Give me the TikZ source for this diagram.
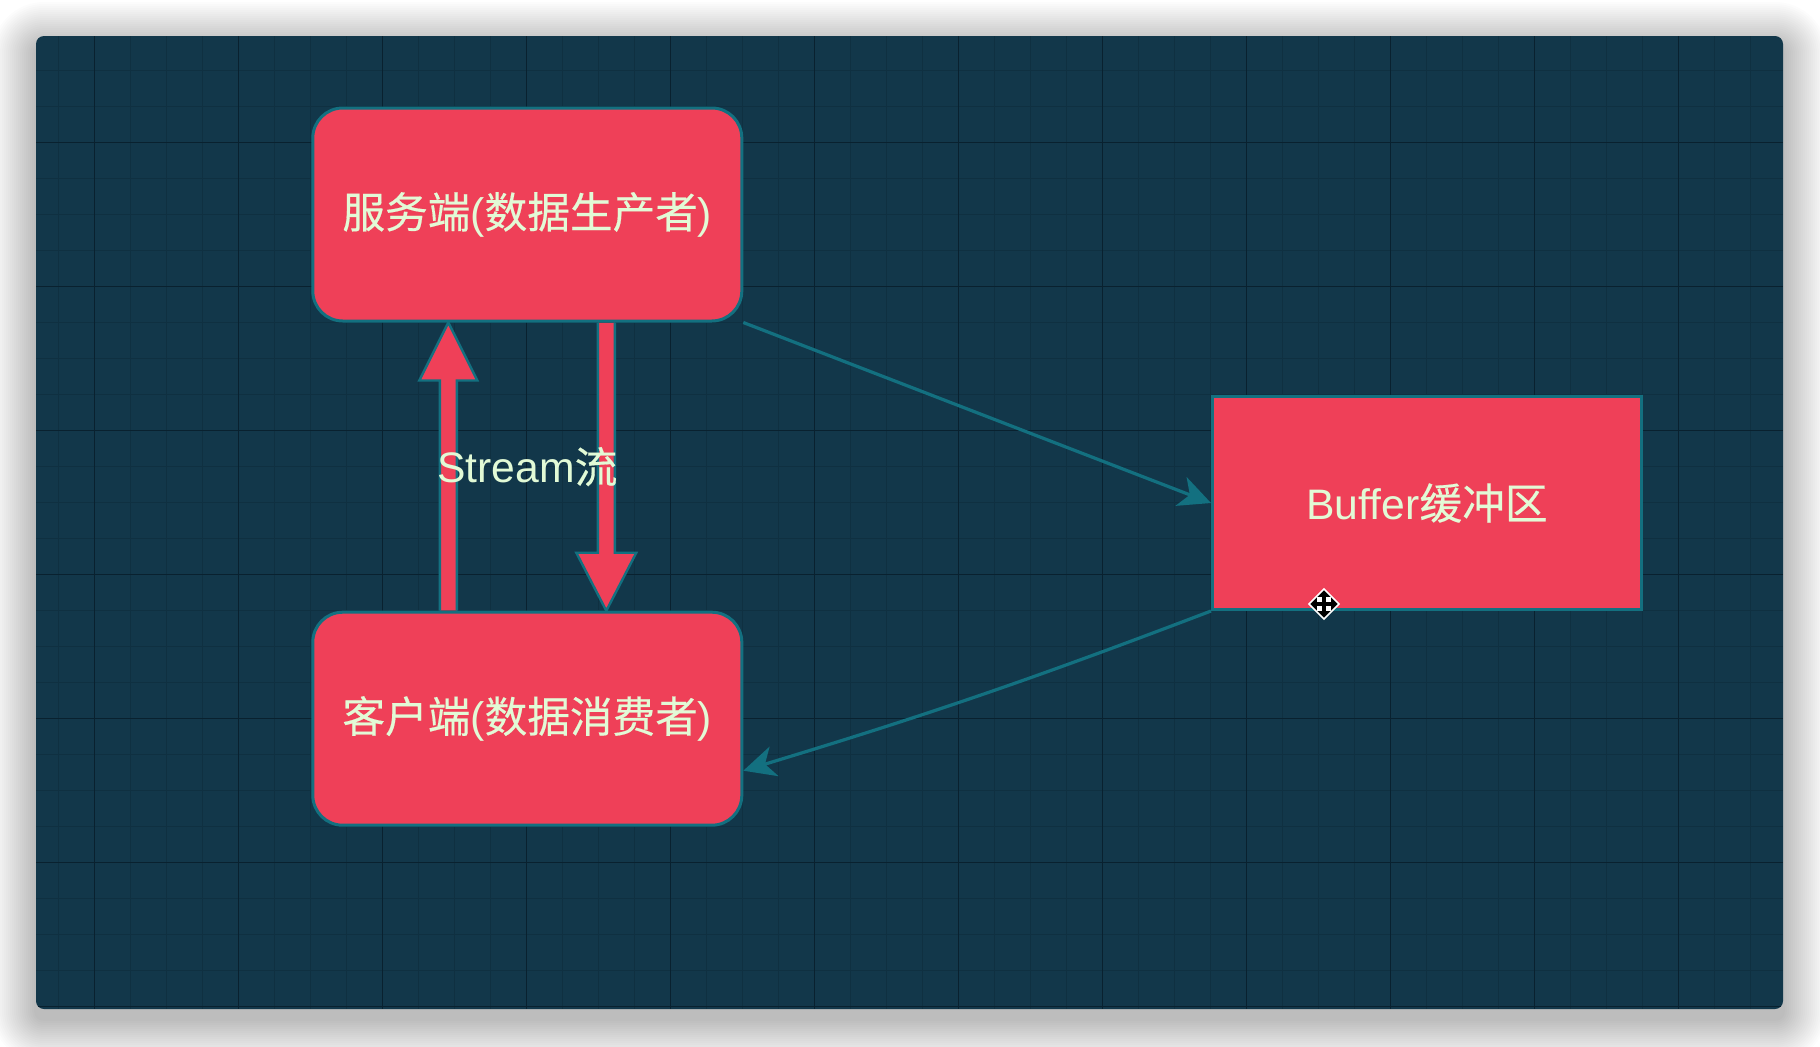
\documentclass[tikz,border=0pt]{standalone}
\usepackage{fontspec}
\setmainfont{Liberation Sans}
\newfontfamily\cjk[FakeBold=0.4]{Noto Sans CJK SC}
\usetikzlibrary{arrows.meta,calc}
\definecolor{panelbg}{RGB}{18,55,74}
\definecolor{minorgrid}{RGB}{15,48,65}
\definecolor{majorgrid}{RGB}{9,33,47}
\definecolor{boxfill}{RGB}{239,64,88}
\definecolor{edgeteal}{RGB}{19,112,128}
\definecolor{txt}{RGB}{226,250,214}
\pgfdeclarelayer{back}
\pgfdeclarelayer{mid}
\pgfsetlayers{back,mid,main}
\begin{document}
\begin{tikzpicture}[x=0.75pt,y=-0.75pt,
  box/.style={draw=edgeteal, line width=2.25pt, fill=boxfill, text=txt,
    font=\fontsize{32}{38}\selectfont, minimum width=321.75pt, minimum height=159.75pt, inner sep=0pt},
  rbox/.style={box, rounded corners=22.5pt},
  flow/.style={draw=edgeteal, line width=2.4pt, -{Stealth[length=24pt,width=23pt,inset=7pt]}},
  blockarrow/.style={fill=boxfill, draw=edgeteal, line width=1.8pt, line join=miter},
  lbl/.style={text=txt, font=\fontsize{32}{38}\selectfont, inner sep=0pt}]

\useasboundingbox (0,0) rectangle (1820,1046);

\begin{pgfonlayer}{back}
\fill[white] (0,0) rectangle (1820,1046);
\foreach \i in {1,...,22} {
  \pgfmathsetmacro\rr{(8+2*\i)*0.75}
  \fill[black, opacity=0.01, rounded corners=\rr pt]
    ({36-2*\i},{46-2*\i}) rectangle ({1783+2*\i},{1019+2*\i});
}
\fill[panelbg, rounded corners=6pt] (36,36) rectangle (1783,1009);
\begin{scope}
  \clip[rounded corners=6pt] (36,36) rectangle (1783,1009);
  \foreach \k in {0,...,49} {
    \pgfmathsetmacro\xx{22.7+36*\k}
    \draw[minorgrid, line width=0.9pt] (\xx,36) -- (\xx,1009);
  }
  \foreach \k in {0,...,28} {
    \pgfmathsetmacro\yy{34.7+36*\k}
    \draw[minorgrid, line width=0.9pt] (36,\yy) -- (1783,\yy);
  }
  \foreach \k in {0,...,13} {
    \pgfmathsetmacro\xx{-49.3+144*\k}
    \draw[majorgrid, line width=0.9pt] (\xx,36) -- (\xx,1009);
  }
  \foreach \k in {0,...,7} {
    \pgfmathsetmacro\yy{-1.3+144*\k}
    \draw[majorgrid, line width=0.9pt] (36,\yy) -- (1783,\yy);
  }
\end{scope}
\end{pgfonlayer}

\node[rbox] (srv) at (527.3,214.5) {{\cjk 服务端}({\cjk 数据生产者})};
\node[rbox] (cli) at (527.3,718.7) {{\cjk 客户端}({\cjk 数据消费者})};
\node[box] (buf) at (1427,503) {Buffer{\cjk 缓冲区}};

\coordinate (ua) at ([xshift=-59.25pt]cli.north);
\coordinate (ub) at ([xshift=-59.25pt]srv.south);
\coordinate (da) at ([xshift=59.25pt]srv.south);
\coordinate (db) at ([xshift=59.25pt]cli.north);

\begin{pgfonlayer}{mid}
\filldraw[blockarrow] ($(ua)+(-8.5,0)$) -- ($(ub)+(-8.5,58)$) -- ($(ub)+(-29,58)$) -- (ub)
  -- ($(ub)+(29,58)$) -- ($(ub)+(8.5,58)$) -- ($(ua)+(8.5,0)$);
\filldraw[blockarrow] ($(da)+(-8.5,0)$) -- ($(db)+(-8.5,-58)$) -- ($(db)+(-30,-58)$) -- (db)
  -- ($(db)+(30,-58)$) -- ($(db)+(8.5,-58)$) -- ($(da)+(8.5,0)$);
\end{pgfonlayer}

\node[lbl] (stream) at ($(srv.south)!0.5!(cli.north)$) {Stream{\cjk 流}};

\draw[flow] (srv.south east) -- (buf.west);
\coordinate (cin) at ($(cli.east)+(0,52)$);
\draw[flow] (buf.south west) to[bend left=2] (cin);

% move cursor
\begin{scope}[shift={(1324,604)}]
  \filldraw[fill=black, draw=white, line width=1.2pt] (0,-15) -- (15,0) -- (0,15) -- (-15,0) -- cycle;
  \fill[white] (-7,-7) rectangle (-2,-2);
  \fill[white] (2,-7) rectangle (7,-2);
  \fill[white] (-7,2) rectangle (-2,7);
  \fill[white] (2,2) rectangle (7,7);
\end{scope}
\end{tikzpicture}
\end{document}
